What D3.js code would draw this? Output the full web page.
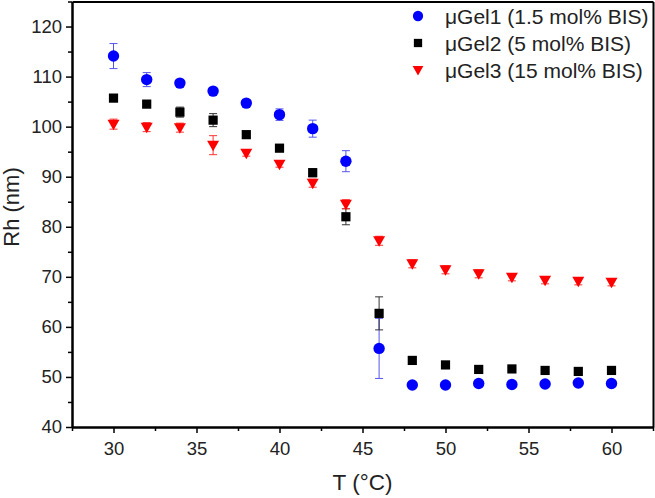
<!DOCTYPE html>
<html><head><meta charset="utf-8">
<script src="https://cdn.jsdelivr.net/npm/d3@7"></script>
<style>body{margin:0;background:#fff}svg{display:block}text{font-family:Arial,"Liberation Sans",sans-serif}</style>
</head><body>
<svg id="c" width="655" height="498"></svg>
<script>
const temps = [30,32,34,36,38,40,42,44,46,48,50,52,54,56,58,60];
const gel1 = [114.1,109.4,108.7,107.1,104.7,102.4,99.6,93.1,55.7,48.4,48.4,48.7,48.5,48.6,48.8,48.7];
const gel1Err = [2.5,1.4,0.6,0.6,0.7,1.15,1.7,2.1,6.0,0.3,0.3,0.3,0.3,0.3,0.3,0.3];
const gel2 = [105.7,104.5,102.9,101.3,98.4,95.7,90.8,82.0,62.7,53.3,52.4,51.5,51.6,51.3,51.1,51.3];
const gel2Err = [0.4,0.5,1.0,1.3,0.4,0.4,0.8,1.6,3.3,0.3,0.3,0.3,0.3,0.3,0.3,0.3];
const gel3 = [100.5,99.9,99.8,96.3,94.7,92.5,88.7,84.5,77.2,72.6,71.4,70.6,69.9,69.3,69.1,68.9];
const gel3Err = [1.0,0.9,0.9,1.9,0.6,0.6,0.8,0.9,0.9,0.8,0.8,0.8,0.7,0.7,0.7,0.7];
const seriesNames = ["\u03bcGel1 (1.5 mol% BIS)","\u03bcGel2 (5 mol% BIS)","\u03bcGel3 (15 mol% BIS)"];
const xTicks = [30,35,40,45,50,55,60];
const xMinorTicks = [27.5,32.5,37.5,42.5,47.5,52.5,57.5,62.5];
const yTicks = [40,50,60,70,80,90,100,110,120];
const yMinorTicks = [45,55,65,75,85,95,105,115,125];

const svg = d3.select("#c");
const L=72, R=653, TOP=1.5, B=427;
const x = d3.scaleLinear().domain([27.5,62.5]).range([L,R]);
const y = d3.scaleLinear().domain([40,125]).range([B,TOP]);

const series = [
  {name:seriesNames[0], v:gel1, e:gel1Err, color:"#0000ff", ecolor:"#5555ee", shape:"circle"},
  {name:seriesNames[1], v:gel2, e:gel2Err, color:"#000000", ecolor:"#333333", shape:"square"},
  {name:seriesNames[2], v:gel3, e:gel3Err, color:"#ff0000", ecolor:"#ff3333", shape:"tri"}
];

function marker(g, shape, color, k){
  k = k || 1;
  if(shape==="circle") g.append("circle").attr("r",5.7*k).attr("fill",color);
  else if(shape==="square") g.append("rect").attr("x",-4.6*k).attr("y",-4.6*k).attr("width",9.2*k).attr("height",9.2*k).attr("fill",color);
  else g.append("path").attr("d",`M${-6*k},${-4.5*k}L${6*k},${-4.5*k}L0,${6*k}Z`).attr("fill",color);
}

const xAx = d3.axisBottom(x).tickValues(xTicks).tickSize(6).tickSizeOuter(0).tickPadding(9).tickFormat(d3.format("d"));
const xMinor = d3.axisBottom(x).tickValues(xMinorTicks).tickSize(4).tickSizeOuter(0).tickFormat(() => "");
const yAx = d3.axisLeft(y).tickValues(yTicks).tickSize(6).tickSizeOuter(0).tickPadding(4).tickFormat(d3.format("d"));
const yMinor = d3.axisLeft(y).tickValues(yMinorTicks).tickSize(4).tickSizeOuter(0).tickFormat(() => "");
const xTop = d3.axisTop(x).tickValues([]).tickSizeOuter(0);
const yRight = d3.axisRight(y).tickValues([]).tickSizeOuter(0);

svg.append("g").attr("transform",`translate(0,${B})`).call(xMinor);
svg.append("g").attr("transform",`translate(0,${B})`).call(xAx);
svg.append("g").attr("transform",`translate(${L},0)`).call(yMinor);
svg.append("g").attr("transform",`translate(${L},0)`).call(yAx);
svg.append("g").attr("transform",`translate(0,${TOP})`).call(xTop);
svg.append("g").attr("transform",`translate(${R},0)`).call(yRight);
svg.selectAll(".domain").attr("stroke","#000").attr("stroke-width",2);
svg.selectAll(".tick line").attr("stroke","#000").attr("stroke-width",1.5);
svg.selectAll(".tick text").attr("font-size",18.5).attr("fill","#222").style("font-family","Arial, 'Liberation Sans', sans-serif");

series.forEach(s=>{
  const g = svg.append("g");
  temps.forEach((t,i)=>{
    const cx=x(t), v=s.v[i], e=s.e[i];
    const y1=y(v+e), y2=y(v-e);
    g.append("line").attr("x1",cx).attr("x2",cx).attr("y1",y1).attr("y2",y2).attr("stroke",s.ecolor).attr("stroke-width",1);
    [y1,y2].forEach(yy=>g.append("line").attr("x1",cx-4).attr("x2",cx+4).attr("y1",yy).attr("y2",yy).attr("stroke",s.ecolor).attr("stroke-width",1));
  });
  temps.forEach((t,i)=>{
    const m = g.append("g").attr("transform",`translate(${x(t)},${y(s.v[i])})`);
    marker(m, s.shape, s.color);
  });
});

const lg = svg.append("g");
series.forEach((s,i)=>{
  const yy = 16 + i*27;
  const m = lg.append("g").attr("transform",`translate(418,${yy})`);
  marker(m, s.shape, s.color, 0.9);
  lg.append("text").attr("x",445).attr("y",yy+8).attr("font-size",21).attr("fill","#222").text(s.name);
});

svg.append("text").attr("x",x(45)).attr("y",490).attr("text-anchor","middle").attr("font-size",22.5).attr("fill","#222").text("T (\u00b0C)");
svg.append("text").attr("transform","translate(19,207) rotate(-90)").attr("text-anchor","middle").attr("font-size",22).attr("fill","#222").text("Rh (nm)");
</script>
</body></html>
